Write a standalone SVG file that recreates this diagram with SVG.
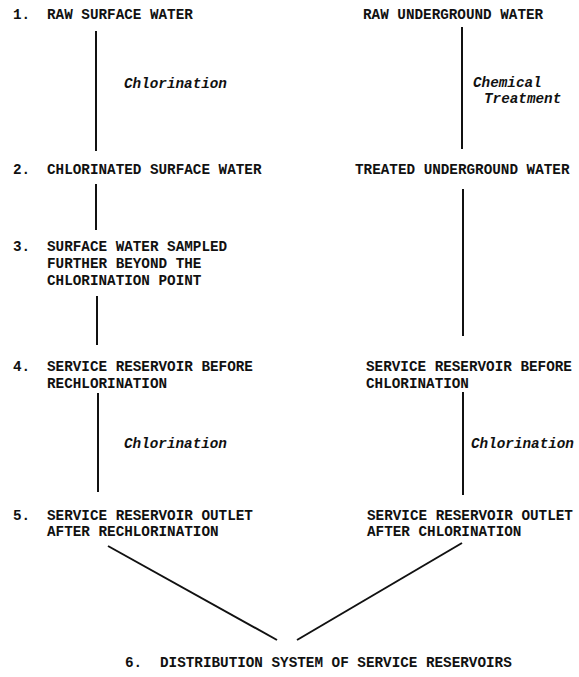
<svg xmlns="http://www.w3.org/2000/svg" width="579" height="677" viewBox="0 0 579 677">
<style>
text{font-family:"Liberation Mono","DejaVu Sans Mono",monospace;font-size:14.3px;font-weight:bold;fill:#111}
.it{font-style:italic}
.ln{stroke:#111;stroke-width:2;fill:none}
</style>
<rect width="579" height="677" fill="#fff"/>
<g id="connectors">
<line class="ln" x1="96" y1="31" x2="96" y2="151"/>
<line class="ln" x1="96" y1="184" x2="96" y2="230"/>
<line class="ln" x1="97" y1="296" x2="97" y2="345"/>
<line class="ln" x1="98" y1="393" x2="98" y2="492"/>
<line class="ln" x1="462" y1="27" x2="462" y2="149"/>
<line class="ln" x1="463" y1="189" x2="463" y2="336"/>
<line class="ln" x1="463" y1="392" x2="463" y2="495"/>
<line class="ln" x1="108" y1="546" x2="277" y2="640"/>
<line class="ln" x1="297" y1="640" x2="462" y2="543"/>
<text class="it" x="124" y="88">Chlorination</text>
<text class="it" x="473" y="87">Chemical</text>
<text class="it" x="484" y="103">Treatment</text>
<text class="it" x="124" y="448">Chlorination</text>
<text class="it" x="471" y="448">Chlorination</text>
</g>
<g id="n1"><text x="13" y="19">1.</text><text x="47" y="19">RAW SURFACE WATER</text></g>
<g id="n2"><text x="13" y="174">2.</text><text x="47" y="174">CHLORINATED SURFACE WATER</text></g>
<g id="n3"><text x="13" y="251">3.</text><text x="47" y="251">SURFACE WATER SAMPLED</text><text x="47" y="268">FURTHER BEYOND THE</text><text x="47" y="285">CHLORINATION POINT</text></g>
<g id="n4"><text x="13" y="371">4.</text><text x="47" y="371">SERVICE RESERVOIR BEFORE</text><text x="47" y="388">RECHLORINATION</text></g>
<g id="n5"><text x="13" y="520">5.</text><text x="47" y="520">SERVICE RESERVOIR OUTLET</text><text x="47" y="536">AFTER RECHLORINATION</text></g>
<g id="r1"><text x="363" y="19">RAW UNDERGROUND WATER</text></g>
<g id="r2"><text x="355" y="174">TREATED UNDERGROUND WATER</text></g>
<g id="r4"><text x="366" y="371">SERVICE RESERVOIR BEFORE</text><text x="366" y="388">CHLORINATION</text></g>
<g id="r5"><text x="367" y="520">SERVICE RESERVOIR OUTLET</text><text x="367" y="536">AFTER CHLORINATION</text></g>
<g id="n6"><text x="125" y="667">6.</text><text x="160" y="667">DISTRIBUTION SYSTEM OF SERVICE RESERVOIRS</text></g>
</svg>
